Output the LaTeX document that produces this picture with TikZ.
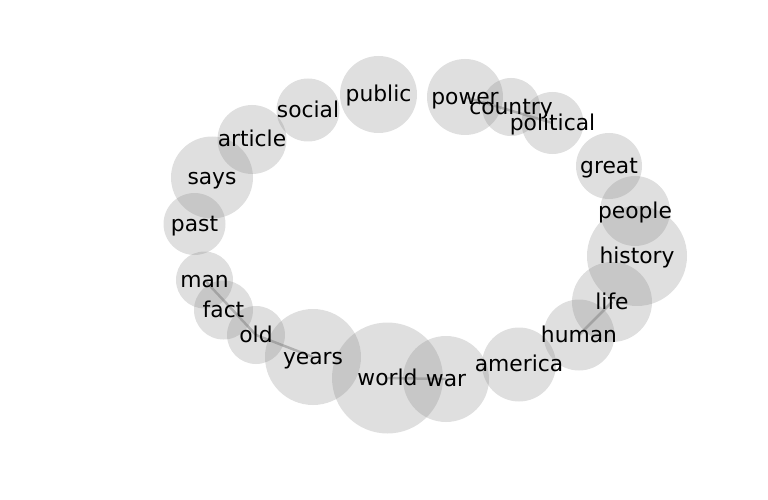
\documentclass[tikz,border=0pt]{standalone}
\usepackage{fontspec}
\setmainfont{DejaVu Sans}
\begin{document}
\begin{tikzpicture}[x=1pt,y=-1pt,
  bub/.style={circle,fill=gray,fill opacity=0.25,draw=none,inner sep=0pt,minimum size=#1},
  lab/.style={font=\fontsize{21.8}{26}\selectfont,text=black,inner sep=0pt,
    text height=0.76em,text depth=0.24em,yshift=-4.5pt},
  edge/.style={draw=gray,opacity=0.5,line width=2.5pt}]
\useasboundingbox (0,0) rectangle (768,500);
% coordinates of node centres
\coordinate (cpublic) at (378.5,94.5);
\coordinate (csocial) at (308,110);
\coordinate (carticle) at (252,139.5);
\coordinate (csays) at (212,177.5);
\coordinate (cpast) at (194.5,224);
\coordinate (cman) at (204.5,280);
\coordinate (cfact) at (223.5,310);
\coordinate (cold) at (256,335);
\coordinate (cyears) at (313,357);
\coordinate (cworld) at (387.5,378);
\coordinate (cwar) at (446,379);
\coordinate (camerica) at (519,364.5);
\coordinate (chuman) at (579,335);
\coordinate (clife) at (612,302);
\coordinate (chistory) at (637,256);
\coordinate (cpeople) at (635,211);
\coordinate (cgreat) at (609,166);
\coordinate (cpolitical) at (552.5,123);
\coordinate (ccountry) at (511,107);
\coordinate (cpower) at (465,97);
% edges
\draw[edge] (cman) -- (cold);
\draw[edge] (cold) -- (cyears);
\draw[edge] (cworld) -- (cwar);
\draw[edge] (clife) -- (chuman);
\draw[edge] (cpower) -- (cpolitical);
% bubbles
\node[bub=77pt] (bpublic) at (cpublic) {};
\node[bub=63pt] (bsocial) at (csocial) {};
\node[bub=69pt] (barticle) at (carticle) {};
\node[bub=82pt] (bsays) at (csays) {};
\node[bub=62pt] (bpast) at (cpast) {};
\node[bub=57pt] (bman) at (cman) {};
\node[bub=59pt] (bfact) at (cfact) {};
\node[bub=58pt] (bold) at (cold) {};
\node[bub=96pt] (byears) at (cyears) {};
\node[bub=111pt] (bworld) at (cworld) {};
\node[bub=86pt] (bwar) at (cwar) {};
\node[bub=74pt] (bamerica) at (camerica) {};
\node[bub=71pt] (bhuman) at (chuman) {};
\node[bub=80pt] (blife) at (clife) {};
\node[bub=100pt] (bhistory) at (chistory) {};
\node[bub=70pt] (bpeople) at (cpeople) {};
\node[bub=66pt] (bgreat) at (cgreat) {};
\node[bub=62pt] (bpolitical) at (cpolitical) {};
\node[bub=58pt] (bcountry) at (ccountry) {};
\node[bub=76pt] (bpower) at (cpower) {};
% labels
\node[lab] (lpublic) at (cpublic) {public};
\node[lab] (lsocial) at (csocial) {social};
\node[lab] (larticle) at (carticle) {article};
\node[lab] (lsays) at (csays) {says};
\node[lab] (lpast) at (cpast) {past};
\node[lab] (lman) at (cman) {man};
\node[lab] (lfact) at (cfact) {fact};
\node[lab] (lold) at (cold) {old};
\node[lab] (lyears) at (cyears) {years};
\node[lab] (lworld) at (cworld) {world};
\node[lab] (lwar) at (cwar) {war};
\node[lab] (lamerica) at (camerica) {america};
\node[lab] (lhuman) at (chuman) {human};
\node[lab] (llife) at (clife) {life};
\node[lab] (lhistory) at (chistory) {history};
\node[lab] (lpeople) at (cpeople) {people};
\node[lab] (lgreat) at (cgreat) {great};
\node[lab] (lpolitical) at (cpolitical) {political};
\node[lab] (lcountry) at (ccountry) {country};
\node[lab] (lpower) at (cpower) {power};
\end{tikzpicture}
\end{document}
